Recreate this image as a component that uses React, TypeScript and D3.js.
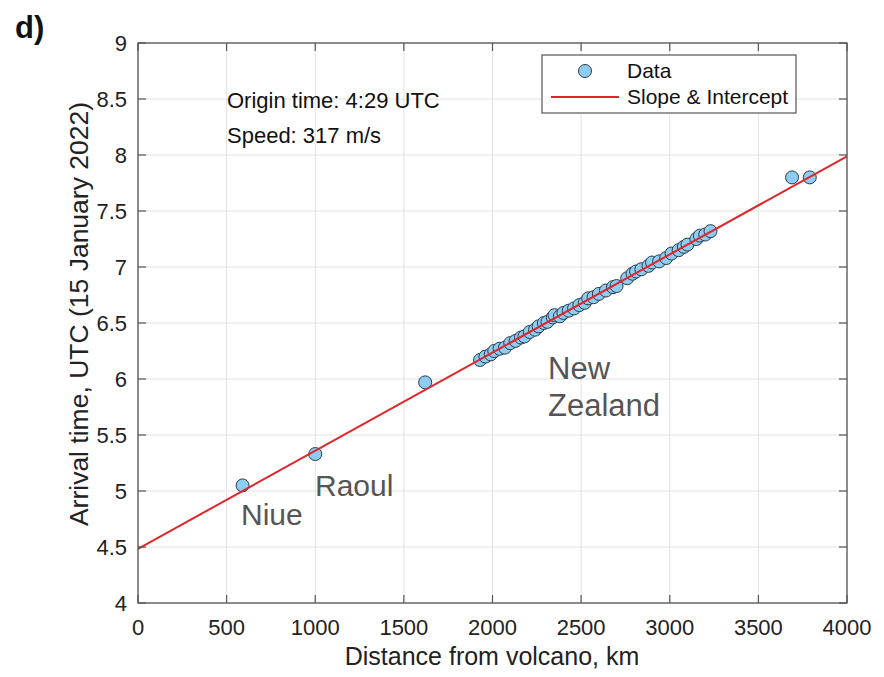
import React from "react";
import * as d3 from "d3";

const xTicks = [0, 500, 1000, 1500, 2000, 2500, 3000, 3500, 4000];
const yTicks = [4, 4.5, 5, 5.5, 6, 6.5, 7, 7.5, 8, 8.5, 9];
const yTickLabels = ["4", "4.5", "5", "5.5", "6", "6.5", "7", "7.5", "8", "8.5", "9"];

const distances = [590, 1000, 1620,
  1930, 1960, 1990, 2010, 2040, 2070, 2100, 2130, 2160, 2180, 2210, 2240, 2260, 2290, 2310,
  2340, 2350, 2380, 2400, 2430, 2460, 2490, 2520, 2540, 2570, 2600, 2640, 2680, 2700, 2760,
  2790, 2810, 2840, 2880, 2900, 2940, 2980, 3010, 3050, 3080, 3100, 3150, 3170, 3200, 3230,
  3690, 3790];
const arrivals = [5.05, 5.33, 5.97,
  6.17, 6.20, 6.22, 6.25, 6.27, 6.28, 6.32, 6.34, 6.37, 6.38, 6.42, 6.44, 6.47, 6.50, 6.51,
  6.55, 6.57, 6.56, 6.59, 6.61, 6.63, 6.66, 6.68, 6.72, 6.73, 6.76, 6.79, 6.82, 6.83, 6.90,
  6.94, 6.96, 6.98, 7.01, 7.04, 7.05, 7.08, 7.12, 7.15, 7.18, 7.20, 7.25, 7.28, 7.29, 7.32,
  7.80, 7.80];

const intercept = 4 + 29 / 60;
const speedKmH = 317 * 3.6;
const fitX = [0, 4000];

const W = 884, H = 677;
const M = { left: 138, right: 847, top: 43, bottom: 603 };

export default function App() {
  const x = d3.scaleLinear().domain([0, 4000]).range([M.left, M.right]);
  const y = d3.scaleLinear().domain([4, 9]).range([M.bottom, M.top]);
  const line = d3.line<number>().x(d => x(d)).y(d => y(intercept + d / speedKmH));
  const axisColor = "#555";
  const font = "Helvetica, Arial, 'Liberation Sans', sans-serif";
  return (
    <svg width={W} height={H} style={{ position: "absolute", left: 0, top: 0, background: "#fff" }} fontFamily={font}>
      <rect x={0} y={0} width={W} height={H} fill="#fff" />
      {/* grid */}
      {xTicks.map(t => (
        <line key={"gx" + t} x1={x(t)} x2={x(t)} y1={M.top} y2={M.bottom} stroke="#e2e2e2" strokeWidth={1} />
      ))}
      {yTicks.map(t => (
        <line key={"gy" + t} x1={M.left} x2={M.right} y1={y(t)} y2={y(t)} stroke="#e2e2e2" strokeWidth={1} />
      ))}
      <clipPath id="clip"><rect x={M.left} y={M.top} width={M.right - M.left} height={M.bottom - M.top} /></clipPath>
      {/* points */}
      {distances.map((d, i) => (
        <circle key={i} cx={x(d)} cy={y(arrivals[i])} r={6.5} fill="#8ecdf2" stroke="#2b3a4a" strokeWidth={1} />
      ))}
      {/* fit line */}
      <path d={line(fitX) || ""} stroke="#e0262b" strokeWidth={2} fill="none" clipPath="url(#clip)" />
      {/* box */}
      <rect x={M.left} y={M.top} width={M.right - M.left} height={M.bottom - M.top} fill="none" stroke={axisColor} strokeWidth={1.3} />
      {/* ticks */}
      {xTicks.map(t => (
        <g key={"tx" + t}>
          <line x1={x(t)} x2={x(t)} y1={M.bottom} y2={M.bottom - 8} stroke={axisColor} strokeWidth={1.2} />
          <line x1={x(t)} x2={x(t)} y1={M.top} y2={M.top + 8} stroke={axisColor} strokeWidth={1.2} />
          <text x={x(t)} y={635} textAnchor="middle" fontSize={22} fill="#222">{t}</text>
        </g>
      ))}
      {yTicks.map((t, i) => (
        <g key={"ty" + t}>
          <line x1={M.left} x2={M.left + 8} y1={y(t)} y2={y(t)} stroke={axisColor} strokeWidth={1.2} />
          <line x1={M.right} x2={M.right - 8} y1={y(t)} y2={y(t)} stroke={axisColor} strokeWidth={1.2} />
          <text x={M.left - 11} y={y(t) + 8} textAnchor="end" fontSize={22} fill="#222">{yTickLabels[i]}</text>
        </g>
      ))}
      {/* axis labels */}
      <text x={492} y={665} textAnchor="middle" fontSize={25} fill="#222">Distance from volcano, km</text>
      <text transform={`translate(88, 314) rotate(-90)`} textAnchor="middle" fontSize={26.5} fill="#222">Arrival time, UTC (15 January 2022)</text>
      {/* panel label */}
      <text x={15} y={38} fontSize={31} fontWeight="bold" fill="#111">d)</text>
      {/* annotations */}
      <text x={227} y={108} fontSize={22} fill="#111">Origin time: 4:29 UTC</text>
      <text x={227} y={143} fontSize={22} fill="#111">Speed: 317 m/s</text>
      <text x={241} y={525} fontSize={30} fill="#555">Niue</text>
      <text x={315} y={496} fontSize={30} fill="#555">Raoul</text>
      <text x={548} y={379} fontSize={31} fill="#555">New</text>
      <text x={548} y={416} fontSize={31} fill="#555">Zealand</text>
      {/* legend */}
      <rect x={542} y={55} width={254} height={58} fill="#fff" stroke={axisColor} strokeWidth={1.2} />
      <circle cx={585} cy={71} r={6.5} fill="#8ecdf2" stroke="#2b3a4a" strokeWidth={1} />
      <text x={627} y={78} fontSize={21} fill="#111">Data</text>
      <line x1={551} x2={619} y1={97} y2={97} stroke="#e0262b" strokeWidth={2} />
      <text x={627} y={104} fontSize={21} fill="#111">Slope &amp; Intercept</text>
    </svg>
  );
}
